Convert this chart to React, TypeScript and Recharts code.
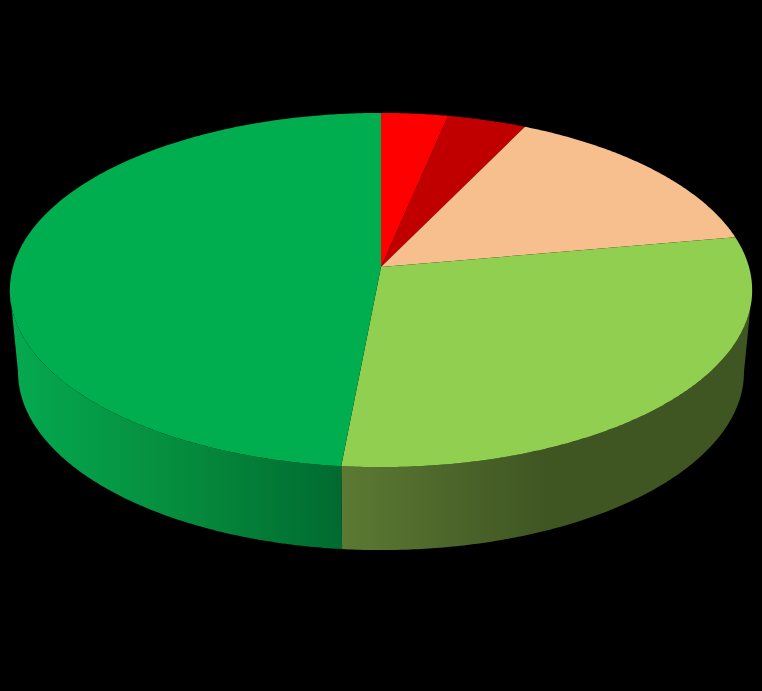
import { PieChart, Pie } from 'recharts'

const categories = ['Rojo', 'Rojo oscuro', 'Naranja', 'Verde claro', 'Verde']
const values = [3.3, 3.9, 15, 29.3, 48.5]
const topColors = ['#ff0000', '#c00000', '#f8bf8e', '#90cf50', '#00ae4f']
const wallColors = ['#c00000', '#900000', '#b08060', 'url(#wallLight)', 'url(#wallGreen)']

const topData = categories.map((name, i) => ({ name, value: values[i], fill: topColors[i] }))
const wallData = categories.map((name, i) => ({ name, value: values[i], fill: wallColors[i] }))

const CX = 381
const APEX_Y = 267
const K = 0.1299
const A = 368
const B = 174.1

// circle -> tilted disc with perspective, theta is clockwise from the top
function rim(theta: number) {
  const r = (theta * Math.PI) / 180
  const v = Math.cos(r)
  const d = 1 + K * v
  return { x: CX + (A * Math.sin(r)) / d, y: APEX_Y - (B * v) / d }
}

function baseRim(theta: number) {
  const p = rim(theta)
  return { x: CX + (p.x - CX) * 0.978, y: 372 + (p.y - 290) * 1.0056 }
}

function arcPoints(from: number, to: number, fn: (t: number) => { x: number; y: number }) {
  const n = Math.max(2, Math.ceil(Math.abs(to - from) * 2))
  const pts: string[] = []
  for (let i = 0; i <= n; i++) {
    const p = fn(from + ((to - from) * i) / n)
    pts.push(`${p.x.toFixed(2)} ${p.y.toFixed(2)}`)
  }
  return pts
}

function TopSlice(props: any) {
  const from = 90 - props.startAngle
  const to = 90 - props.endAngle
  const pts = arcPoints(from, to, rim)
  return <path d={`M${CX} ${APEX_Y}L${pts.join('L')}Z`} fill={props.fill} stroke="none" />
}

function WallSlice(props: any) {
  const edge = (Math.acos(-K) * 180) / Math.PI
  const from = Math.max(90 - props.startAngle, edge)
  const to = Math.min(90 - props.endAngle, 360 - edge)
  if (to <= from) return <g />
  const top = arcPoints(from, to, rim)
  const base = arcPoints(to, from, baseRim)
  return <path d={`M${top.join('L')}L${base.join('L')}Z`} fill={props.fill} stroke="none" />
}

export default function App() {
  return (
    <div style={{ position: 'fixed', top: 0, left: 0, width: 762, height: 691, background: '#000' }}>
      <PieChart width={762} height={691} margin={{ top: 0, right: 0, bottom: 0, left: 0 }}>
        <defs>
          <linearGradient id="wallGreen" gradientUnits="userSpaceOnUse" x1="10" y1="0" x2="342" y2="0">
            <stop offset="0" stopColor="#05aa50" />
            <stop offset="0.55" stopColor="#058a3c" />
            <stop offset="1" stopColor="#006a30" />
          </linearGradient>
          <linearGradient id="wallLight" gradientUnits="userSpaceOnUse" x1="342" y1="0" x2="752" y2="0">
            <stop offset="0" stopColor="#5c7a33" />
            <stop offset="0.3" stopColor="#4a6329" />
            <stop offset="0.5" stopColor="#3f5622" />
            <stop offset="1" stopColor="#3f5622" />
          </linearGradient>
        </defs>
        <Pie
          data={wallData}
          dataKey="value"
          nameKey="name"
          cx={CX}
          cy={APEX_Y}
          outerRadius={177}
          startAngle={90}
          endAngle={-270}
          stroke="none"
          shape={WallSlice}
          isAnimationActive={false}
        />
        <Pie
          data={topData}
          dataKey="value"
          nameKey="name"
          cx={CX}
          cy={APEX_Y}
          outerRadius={177}
          startAngle={90}
          endAngle={-270}
          stroke="none"
          shape={TopSlice}
          isAnimationActive={false}
        />
      </PieChart>
    </div>
  )
}
